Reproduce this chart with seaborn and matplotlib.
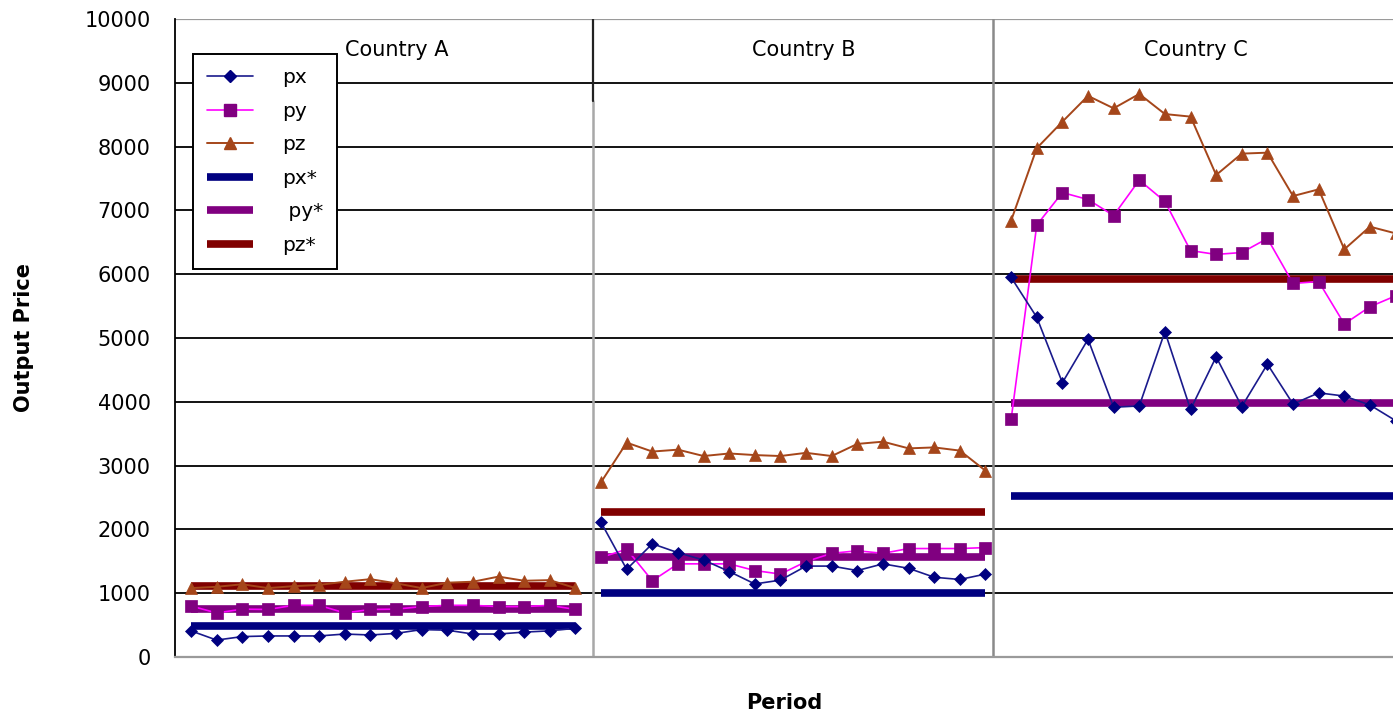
import numpy as np
import pandas as pd
import matplotlib
matplotlib.use("Agg")
import matplotlib.pyplot as plt
from matplotlib.lines import Line2D
import seaborn as sns

# ---- data -------------------------------------------------------------
countries = ["Country A", "Country B", "Country C"]
n_periods = 16

px_a = [410, 265, 320, 330, 330, 330, 360, 345, 370, 430, 420, 360, 360, 390, 410, 450]
py_a = [800, 690, 750, 745, 810, 810, 690, 745, 750, 790, 810, 810, 790, 790, 810, 745]
pz_a = [1080, 1100, 1140, 1080, 1110, 1130, 1180, 1220, 1155, 1080, 1165, 1180, 1260, 1195, 1205, 1080]

px_b = [2110, 1375, 1775, 1635, 1520, 1340, 1145, 1205, 1425, 1425, 1355, 1460, 1390, 1250, 1215, 1300]
py_b = [1560, 1690, 1195, 1460, 1460, 1460, 1355, 1300, 1495, 1625, 1665, 1625, 1700, 1700, 1700, 1715]
pz_b = [2740, 3360, 3220, 3250, 3150, 3190, 3165, 3150, 3200, 3150, 3340, 3375, 3270, 3285, 3235, 2920]

px_c = [5950, 5325, 4300, 4980, 3915, 3935, 5100, 3880, 4705, 3925, 4590, 3965, 4140, 4090, 3950, 3705]
py_c = [3725, 6770, 7280, 7170, 6920, 7475, 7140, 6370, 6310, 6340, 6560, 5855, 5885, 5220, 5490, 5660]
pz_c = [6840, 7975, 8390, 8795, 8600, 8825, 8510, 8470, 7555, 7890, 7905, 7225, 7330, 6390, 6745, 6640]

# equilibrium prices per country
px_star = [480, 1000, 2530]
py_star = [750, 1560, 3980]
pz_star = [1120, 2280, 5920]

y_ticks = [0, 1000, 2000, 3000, 4000, 5000, 6000, 7000, 8000, 9000, 10000]

# ---- long-form table ----------------------------------------------------
rows = []
series_vals = {"px": [px_a, px_b, px_c], "py": [py_a, py_b, py_c], "pz": [pz_a, pz_b, pz_c]}
for s, per_country in series_vals.items():
    for ci, (c, vals) in enumerate(zip(countries, per_country)):
        for k, v in enumerate(vals):
            rows.append({"series": s, "country": c, "t": ci * n_periods + k, "value": v})
df = pd.DataFrame(rows)

star_rows = []
for s, vals in {"px*": px_star, "py*": py_star, "pz*": pz_star}.items():
    for ci, (c, v) in enumerate(zip(countries, vals)):
        for k in range(n_periods):
            star_rows.append({"series": s, "country": c, "t": ci * n_periods + k, "value": v})
df_star = pd.DataFrame(star_rows)

# ---- styling ------------------------------------------------------------
sns.set_style("white")
plt.rcParams["font.family"] = ["DejaVu Sans"]
plt.rcParams.update({"text.color": "black", "axes.labelcolor": "black",
                     "xtick.color": "black", "ytick.color": "black"})

line_style = {
    "px": dict(color="#1a1a8c", marker="D", ms=6, mfc="#000080", mec="#000080", lw=1.2),
    "py": dict(color="#ff00ff", marker="s", ms=8, mfc="#800080", mec="#800080", lw=1.2),
    "pz": dict(color="#a5461a", marker="^", ms=8, mfc="#a5461a", mec="#a5461a", lw=1.4),
}
star_color = {"px*": "#000080", "py*": "#800080", "pz*": "#800000"}

fig = plt.figure(figsize=(13.93, 7.15), dpi=100)
ax = fig.add_axes([175 / 1393, 1 - 657 / 715, 1 - 175 / 1393, (657 - 19) / 715])

# horizontal grid
for v in y_ticks[1:-1]:
    ax.axhline(v, color="black", lw=1.3, zorder=1)
ax.axhline(10000, color="#9a9a9a", lw=1.6, zorder=1)

# panel separators
ax.plot([15.68, 15.68], [0, 8720], color="#a8a8a8", lw=1.8, zorder=1)
ax.plot([15.68, 15.68], [8720, 10000], color="#222222", lw=1.6, zorder=1)
ax.plot([31.29, 31.29], [0, 10000], color="#8a8a8a", lw=1.8, zorder=1)

# equilibrium levels
for s, col in star_color.items():
    for c in countries:
        sub = df_star[(df_star.series == s) & (df_star.country == c)]
        sns.lineplot(data=sub, x="t", y="value", ax=ax, color=col, lw=5.5,
                     solid_capstyle="butt", legend=False, zorder=3)

# observed prices
for s in ["pz", "py", "px"]:
    st = line_style[s]
    for c in countries:
        sub = df[(df.series == s) & (df.country == c)]
        sns.lineplot(data=sub, x="t", y="value", ax=ax, color=st["color"], lw=st["lw"],
                     marker=st["marker"], markersize=st["ms"], markerfacecolor=st["mfc"],
                     markeredgecolor=st["mec"], markeredgewidth=0.5, legend=False, zorder=4)

# panel titles
centers = [8.04, 23.9, 39.2]
for c, xc in zip(countries, centers):
    ax.text(xc, 9510, c, ha="center", va="center", fontsize=15, color="black")

ax.set_xlim(-0.624, 46.9)
ax.set_ylim(0, 10000)
ax.set_yticks(y_ticks)
ax.set_yticklabels([str(v) for v in y_ticks], fontsize=15)
ax.set_xticks([])
ax.tick_params(axis="y", direction="inout", length=9, width=1.2, pad=13, color="black")
ax.spines["left"].set_color("black")
ax.spines["left"].set_linewidth(1.3)
ax.spines["bottom"].set_color("#9a9a9a")
ax.spines["bottom"].set_linewidth(1.6)
ax.spines["top"].set_visible(False)
ax.spines["right"].set_visible(False)

ax.set_xlabel("Period", fontsize=15, fontweight="bold", labelpad=26)
ax.set_ylabel("Output Price", fontsize=15, fontweight="bold", labelpad=36)

# legend
handles = [
    Line2D([], [], color="#1a1a8c", lw=1.2, marker="D", ms=6, mfc="#000080", mec="#000080"),
    Line2D([], [], color="#ff00ff", lw=1.2, marker="s", ms=8, mfc="#800080", mec="#800080"),
    Line2D([], [], color="#a5461a", lw=1.4, marker="^", ms=8, mfc="#a5461a", mec="#a5461a"),
    Line2D([], [], color=star_color["px*"], lw=5.5, solid_capstyle="butt"),
    Line2D([], [], color=star_color["py*"], lw=5.5, solid_capstyle="butt"),
    Line2D([], [], color=star_color["pz*"], lw=5.5, solid_capstyle="butt"),
]
labels = ["px", "py", "pz", "px*", " py*", "pz*"]
leg = ax.legend(handles, labels, loc="upper left", bbox_to_anchor=(0.0148, 0.945),
                fontsize=14.5, handlelength=2.3, handletextpad=1.4, labelspacing=0.72,
                borderpad=0.7, borderaxespad=0, frameon=True, fancybox=False,
                edgecolor="black", framealpha=1)
leg.get_frame().set_linewidth(1.4)
leg.set_zorder(6)

fig.savefig("out.png", dpi=100, facecolor="white")
